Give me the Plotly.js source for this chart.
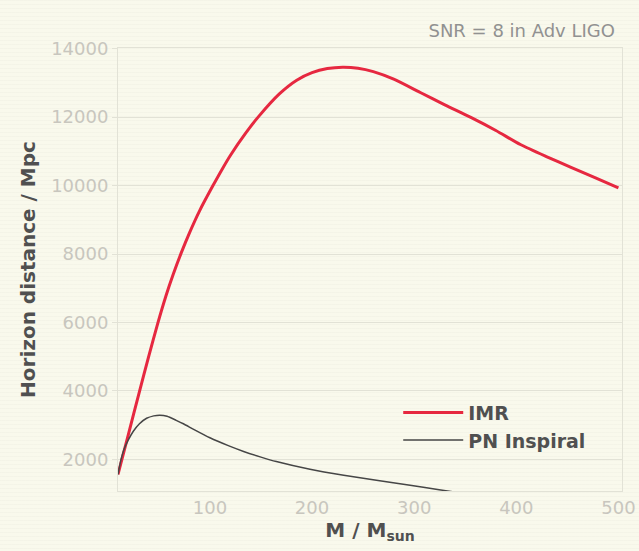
<!DOCTYPE html>
<html>
<head>
<meta charset="utf-8">
<script src="https://cdn.plot.ly/plotly-3.0.1.min.js"></script>
<style>
  html, body { margin: 0; padding: 0; }
  body {
    width: 639px; height: 551px; overflow: hidden;
    background-color: rgb(249, 249, 236);
    background-image: repeating-linear-gradient(to bottom,
      rgba(0,0,0,0.018) 0px, rgba(0,0,0,0.018) 1px,
      rgba(0,0,0,0) 1px, rgba(0,0,0,0) 4px);
  }
  #chart { width: 639px; height: 551px; }
</style>
</head>
<body>
<div id="chart"></div>
<script>
// Horizon distance (Mpc) versus total mass (solar masses), SNR = 8, Advanced LIGO
const imrMass = [10, 20, 31, 40, 49, 57, 64, 72, 80, 90, 103, 112, 120, 135, 148, 168,
                 185, 200, 215, 230, 245, 260, 280, 306, 330, 355, 380, 404, 430, 453, 477, 500];
const imrDist = [1560, 2710, 3980, 5000, 5980, 6780, 7400, 8040, 8620, 9270, 10000, 10480,
                 10880, 11530, 12030, 12680, 13080, 13300, 13420, 13460, 13430, 13330, 13110,
                 12720, 12360, 12000, 11610, 11200, 10840, 10540, 10230, 9930];

const pnMass = [10, 13, 16, 20, 25, 31, 38, 45, 51, 58, 67, 74, 85, 100, 118, 133, 150,
                165, 198, 231, 263, 296, 326, 345];
const pnDist = [1560, 2000, 2300, 2560, 2820, 3040, 3200, 3270, 3290, 3260, 3140, 3040,
                2860, 2630, 2400, 2230, 2065, 1935, 1710, 1535, 1390, 1245, 1105, 1020];

const seriesNames = ["IMR", "PN Inspiral"];
const yTicks = [2000, 4000, 6000, 8000, 10000, 12000, 14000];
const xTicks = [100, 200, 300, 400, 500];

const gridColor = "rgb(226, 226, 214)";
const tickFont = { family: "DejaVu Sans, sans-serif", size: 18, color: "rgb(200, 198, 190)" };
const boldFont = { family: "DejaVu Sans, sans-serif", weight: 700, color: "rgb(80, 80, 80)" };

const traces = [
  {
    x: imrMass, y: imrDist, name: seriesNames[0], type: "scatter", mode: "lines",
    line: { color: "rgb(230, 40, 64)", width: 3, shape: "spline", smoothing: 0.7 }
  },
  {
    x: pnMass, y: pnDist, name: seriesNames[1], type: "scatter", mode: "lines",
    line: { color: "rgb(70, 70, 70)", width: 1.5, shape: "spline", smoothing: 0.7 }
  }
];

const layout = {
  width: 639, height: 551,
  margin: { l: 118, r: 17, t: 48, b: 60 },
  paper_bgcolor: "rgba(0,0,0,0)",
  plot_bgcolor: "rgba(0,0,0,0)",
  title: {
    text: "SNR = 8 in Adv LIGO",
    font: { family: "DejaVu Sans, sans-serif", size: 18, color: "rgb(145, 145, 145)" },
    x: 0.986, xanchor: "right", xref: "paper",
    y: 0.945, yanchor: "middle"
  },
  xaxis: {
    range: [10, 503.5],
    tickvals: xTicks, ticktext: xTicks.map(String),
    showgrid: false, zeroline: false,
    showline: true, mirror: true, linecolor: gridColor, linewidth: 1,
    ticks: "", tickfont: tickFont,
    title: { text: "M / M<sub>sun</sub>", font: Object.assign({ size: 20 }, boldFont), standoff: 0 }
  },
  yaxis: {
    range: [1075, 14020],
    tickvals: yTicks, ticktext: yTicks.map(String),
    showgrid: true, gridcolor: gridColor, gridwidth: 1, zeroline: false,
    showline: true, mirror: true, linecolor: gridColor, linewidth: 1,
    ticks: "outside", ticklen: 5, tickcolor: gridColor, tickfont: tickFont,
    title: { text: "Horizon distance / Mpc", font: Object.assign({ size: 20 }, boldFont), standoff: 10 }
  },
  legend: {
    x: 0.556, y: 0.22, xanchor: "left", yanchor: "top",
    bgcolor: "rgba(0,0,0,0)",
    font: Object.assign({ size: 19 }, boldFont),
    itemwidth: 60, tracegroupgap: 0
  },
  showlegend: true
};

Plotly.newPlot("chart", traces, layout, { staticPlot: true, displayModeBar: false });
</script>
</body>
</html>
